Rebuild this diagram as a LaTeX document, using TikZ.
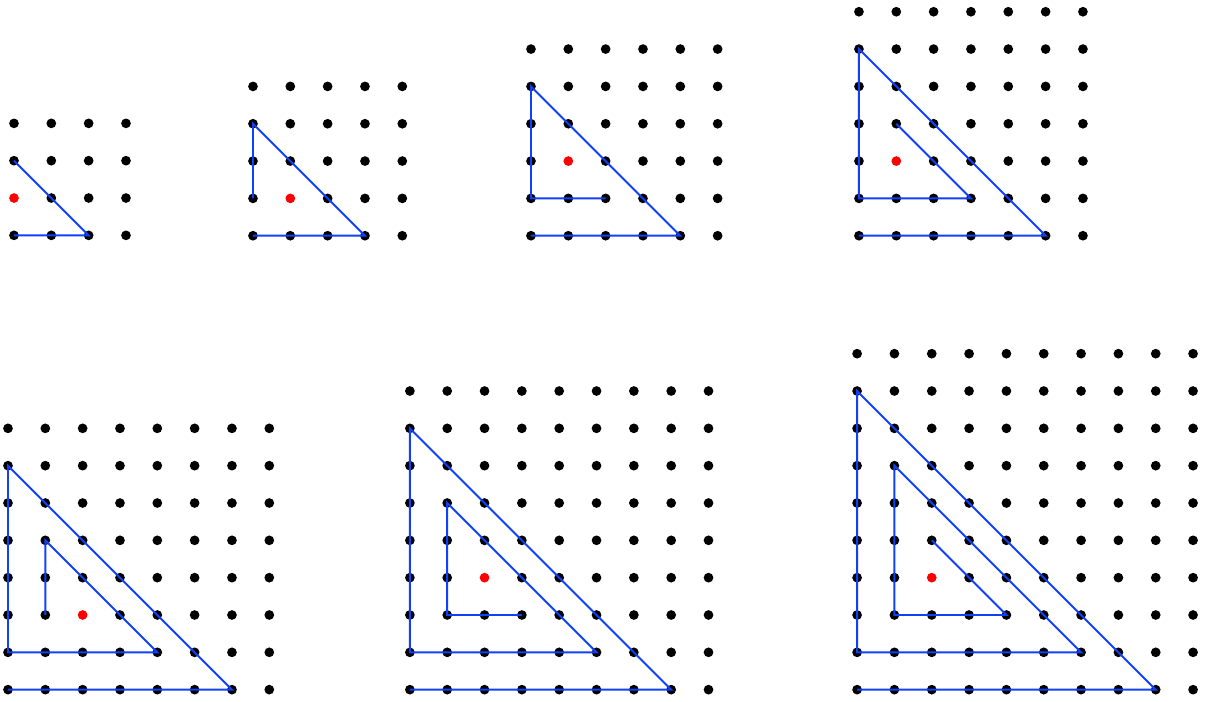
\documentclass[tikz,border=0pt]{standalone}
\definecolor{spiralblue}{RGB}{16,64,250}
\begin{document}
\begin{tikzpicture}[x=1cm, y=1cm,
  peg/.style={circle, inner sep=0pt, minimum size=0.26cm},
  spiral/.style={draw=spiralblue, line width=1.5pt}]
\useasboundingbox (0,0) rectangle (32.28,18.805);
\foreach \name/\n/\px/\py/\ri/\rj in {a/4/0.375/12.5/0/1, b/5/6.777/12.49/1/1,
    c/6/14.224/12.49/1/2, d/7/23.01/12.49/1/2, e/8/0.214/0.33/2/2,
    f/9/10.98/0.33/2/3, g/10/22.96/0.33/2/3} {
  \begin{scope}[shift={(\px,\py)}]
  \pgfmathtruncatemacro\last{\n-1}
  \foreach \i in {0,...,\last}
    \foreach \j in {0,...,\last} {
      \def\pegcol{black}
      \ifnum\i=\ri \ifnum\j=\rj \def\pegcol{red}\fi\fi
      \node[peg, fill=\pegcol] (\name-\i-\j) at (\i,\j) {};
    }
  \end{scope}
}
\draw[spiral] (a-0-0.center) -- (a-2-0.center) -- (a-0-2.center);
\draw[spiral] (b-0-0.center) -- (b-3-0.center) -- (b-0-3.center) -- (b-0-1.center);
\draw[spiral] (c-0-0.center) -- (c-4-0.center) -- (c-0-4.center) -- (c-0-1.center)
  -- (c-2-1.center);
\draw[spiral] (d-0-0.center) -- (d-5-0.center) -- (d-0-5.center) -- (d-0-1.center)
  -- (d-3-1.center) -- (d-1-3.center);
\draw[spiral] (e-0-0.center) -- (e-6-0.center) -- (e-0-6.center) -- (e-0-1.center)
  -- (e-4-1.center) -- (e-1-4.center) -- (e-1-2.center);
\draw[spiral] (f-0-0.center) -- (f-7-0.center) -- (f-0-7.center) -- (f-0-1.center)
  -- (f-5-1.center) -- (f-1-5.center) -- (f-1-2.center) -- (f-3-2.center);
\draw[spiral] (g-0-0.center) -- (g-8-0.center) -- (g-0-8.center) -- (g-0-1.center)
  -- (g-6-1.center) -- (g-1-6.center) -- (g-1-2.center) -- (g-4-2.center)
  -- (g-2-4.center);
\end{tikzpicture}
\end{document}
